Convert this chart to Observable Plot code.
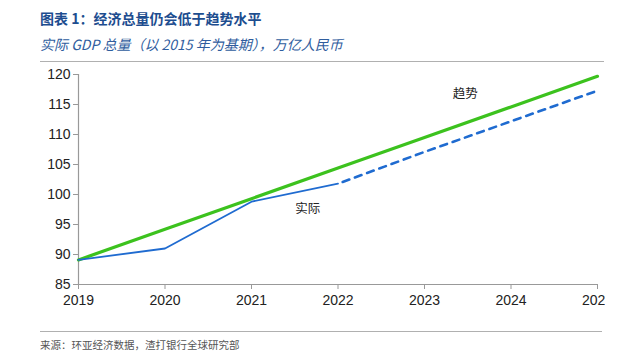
<!DOCTYPE html>
<html>
<head>
<meta charset="utf-8">
<script src="https://cdn.jsdelivr.net/npm/d3@7"></script>
<script src="https://cdn.jsdelivr.net/npm/@observablehq/plot@0.6"></script>
<style>
  html, body { margin: 0; padding: 0; background: #fff; }
  body { width: 626px; height: 355px; position: relative; overflow: hidden; font-family: "Noto Sans CJK SC", "Liberation Sans", sans-serif; }
  #title { position: absolute; left: 40px; top: 8px; line-height: 20px; font-size: 14px; font-weight: bold; color: #1d4d8f; white-space: nowrap; }
  #subtitle { position: absolute; left: 40px; top: 34px; line-height: 20px; font-size: 14px; font-style: italic; color: #2f5d9e; white-space: nowrap; }
  #topline { position: absolute; left: 40px; top: 61px; width: 564px; height: 0; border-top: 1.5px solid #b0b0b0; }
  #chart { position: absolute; left: 0; top: 62px; width: 605px; height: 260px; overflow: hidden; }
  #bottomline { position: absolute; left: 40px; top: 331px; width: 562px; height: 0; border-top: 1px solid #b0b0b0; }
  #source { position: absolute; left: 40px; top: 337px; line-height: 16px; font-size: 10.5px; color: #555; white-space: nowrap; }
</style>
</head>
<body>
<div id="title">图表 1：经济总量仍会低于趋势水平</div>
<div id="subtitle">实际 GDP 总量（以 2015 年为基期），万亿人民币</div>
<div id="topline"></div>
<div id="chart"></div>
<div id="bottomline"></div>
<div id="source">来源：环亚经济数据，渣打银行全球研究部</div>
<script>
// Data
const years = [2019, 2020, 2021, 2022, 2023, 2024, 2025];
const trendValues = [89.1, 94.2, 99.3, 104.4, 109.5, 114.6, 119.7];
const actualYears = [2019, 2020, 2021, 2022];
const actualValues = [89.1, 91.0, 98.8, 101.8];
const projYears = [2022, 2023, 2024, 2025];
const projValues = [101.8, 107.1, 112.2, 117.3];
const yTicks = [85, 90, 95, 100, 105, 110, 115, 120];
const labelNames = ["趋势", "实际"];
const labelYears = [2023.47, 2021.65];
const labelValues = [116.7, 97.6];

const trend = years.map((x, i) => ({x, y: trendValues[i]}));
const actual = actualYears.map((x, i) => ({x, y: actualValues[i]}));
const proj = projYears.map((x, i) => ({x, y: projValues[i]}));
const labels = labelNames.map((t, i) => ({t, x: labelYears[i], y: labelValues[i]}));

const chart = Plot.plot({
  width: 605,
  height: 260,
  marginTop: 12,
  marginBottom: 38,
  marginLeft: 78,
  marginRight: 8,
  style: { fontFamily: "'Liberation Sans', Arial, sans-serif", fontSize: "14px", color: "#222", background: "#fff", overflow: "hidden" },
  x: { domain: [2019, 2025] },
  y: { domain: [85, 120] },
  marks: [
    Plot.ruleX([2019], { stroke: "#999", strokeWidth: 1.2 }),
    Plot.ruleY([85], { stroke: "#999", strokeWidth: 1.2 }),
    Plot.axisY({ ticks: yTicks, tickSize: 5, tickPadding: 3, stroke: "#999", fill: "#222", label: null, fontSize: 14 }),
    Plot.axisX({ ticks: years, tickFormat: "d", tickSize: 5, tickPadding: 6, stroke: "#999", fill: "#222", label: null, fontSize: 14 }),
    Plot.line(trend, { x: "x", y: "y", stroke: "#3cc21e", strokeWidth: 3.2 }),
    Plot.line(actual, { x: "x", y: "y", stroke: "#1f6bd0", strokeWidth: 1.8 }),
    Plot.line(proj, { x: "x", y: "y", stroke: "#1f6bd0", strokeWidth: 2.6, strokeDasharray: "7,6", strokeDashoffset: -5 }),
    Plot.text(labels, { x: "x", y: "y", text: "t", fontSize: 12.5, fill: "#222", fontFamily: "'Noto Sans CJK SC', sans-serif" })
  ]
});
document.getElementById("chart").appendChild(chart);
</script>
</body>
</html>
